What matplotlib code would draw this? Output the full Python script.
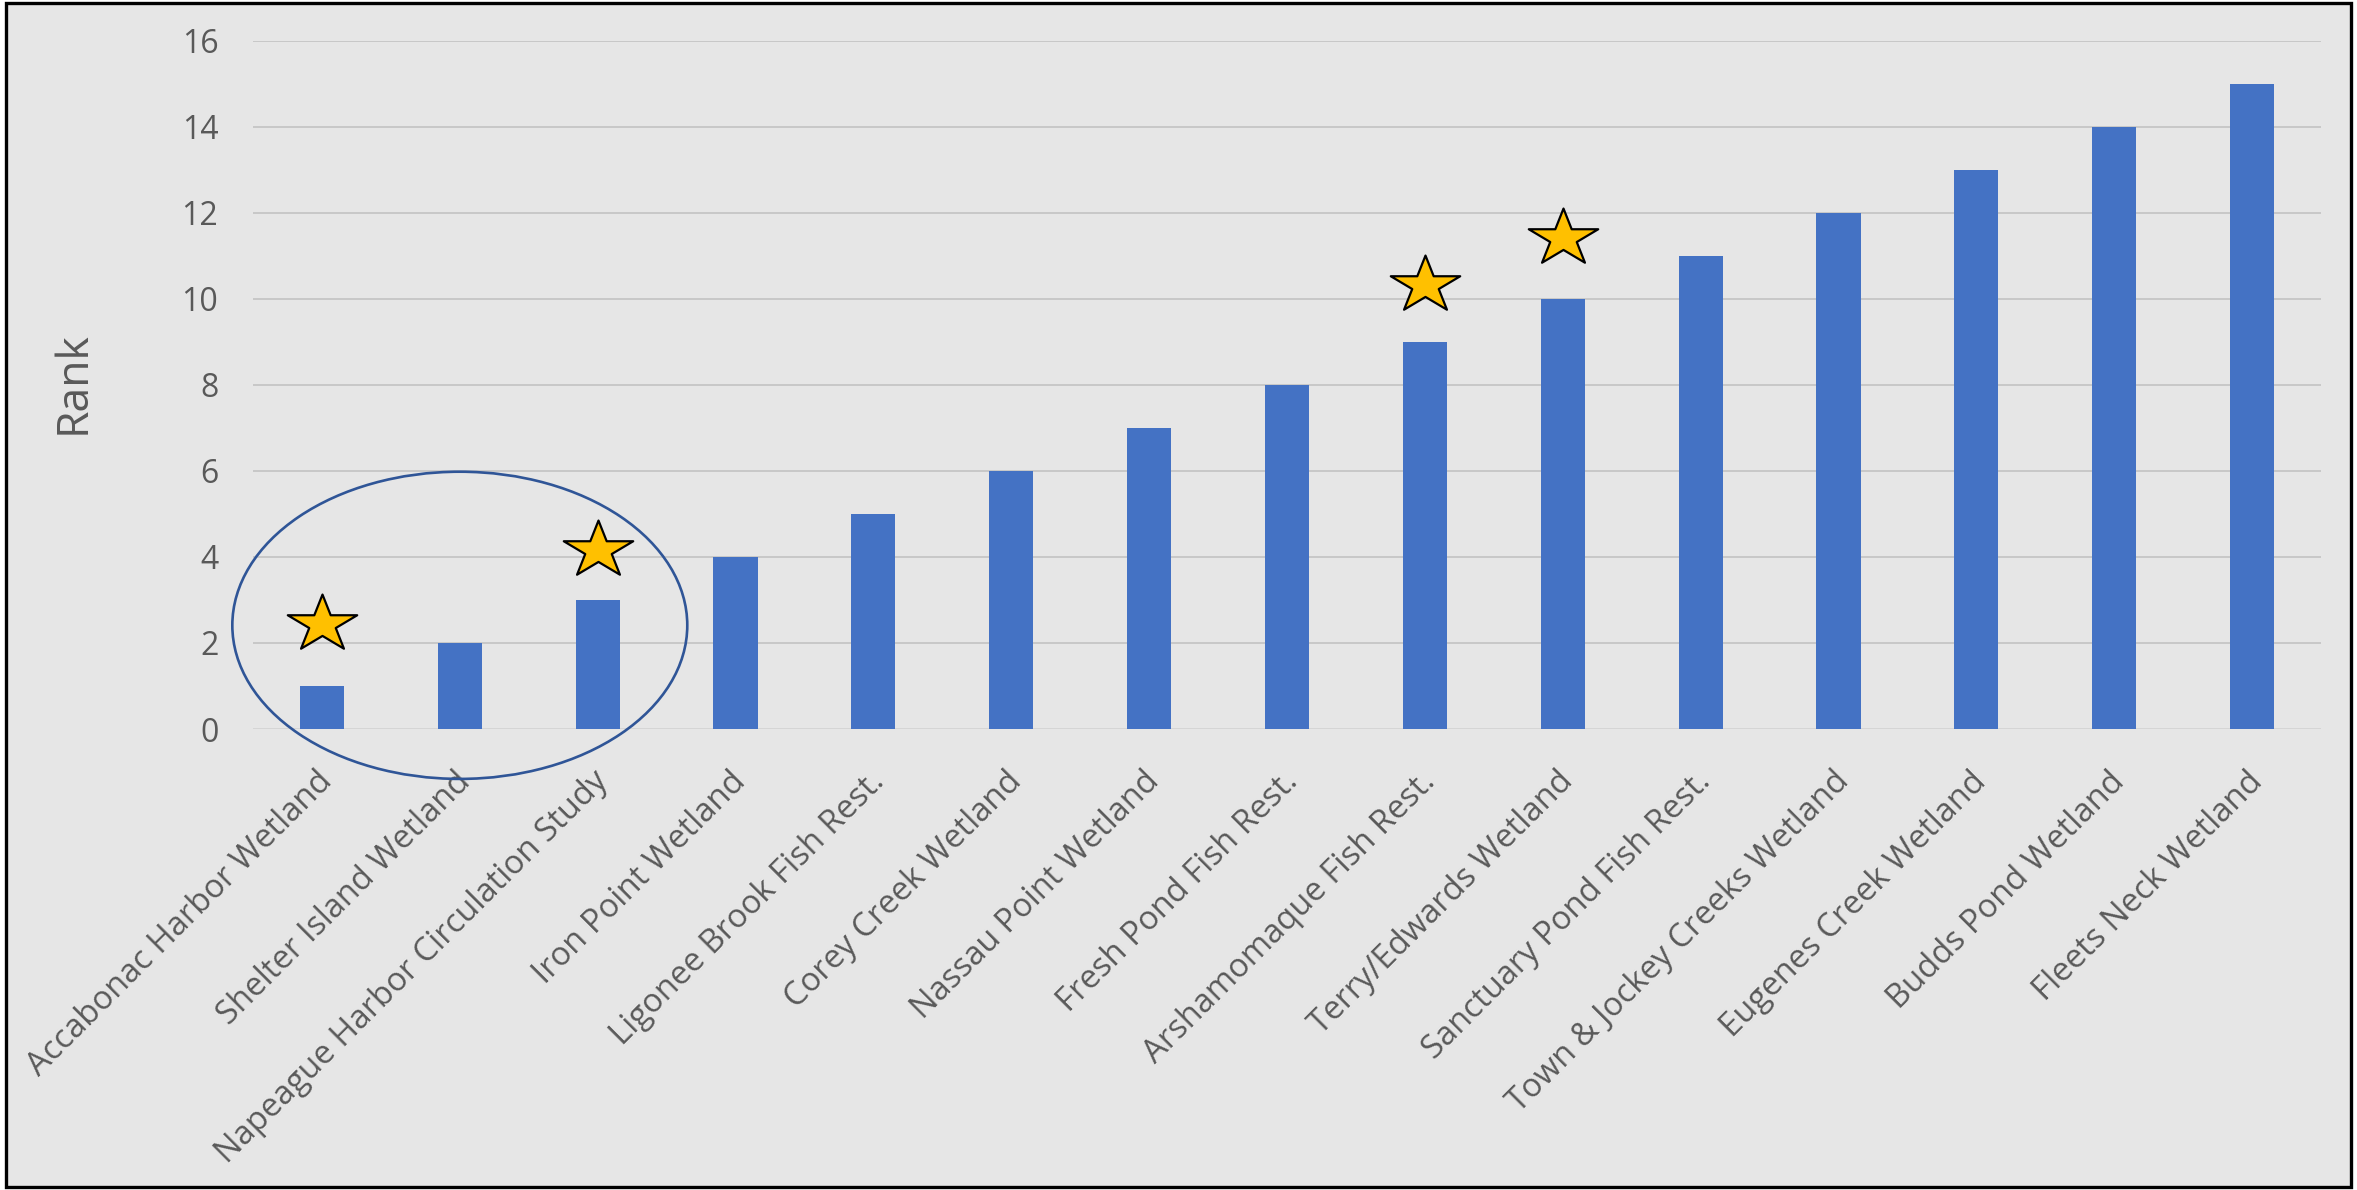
import numpy as np
import matplotlib.pyplot as plt
from matplotlib.patches import Ellipse, Rectangle
from matplotlib.path import Path
from matplotlib.transforms import ScaledTranslation

plt.rcParams['font.family'] = ['Open Sans', 'DejaVu Sans']

# data
projects = ["Accabonac Harbor Wetland", "Shelter Island Wetland",
            "Napeague Harbor Circulation Study", "Iron Point Wetland",
            "Ligonee Brook Fish Rest.", "Corey Creek Wetland",
            "Nassau Point Wetland", "Fresh Pond Fish Rest.",
            "Arshamomaque Fish Rest.", "Terry/Edwards Wetland",
            "Sanctuary Pond Fish Rest.", "Town & Jockey Creeks Wetland",
            "Eugenes Creek Wetland", "Budds Pond Wetland", "Fleets Neck Wetland"]
rank = [1, 2, 3, 4, 5, 6, 7, 8, 9, 10, 11, 12, 13, 14, 15]
star_idx = [0, 2, 8, 9]
star_y = [2.44, 4.16, 10.33, 11.41]

text_col = '#595959'
W, H = 2357, 1190

fig = plt.figure(figsize=(W / 100, H / 100), dpi=100, facecolor='white')
# grey chart area with black frame
fig.patches.append(Rectangle((6 / W, 3 / H), 2345 / W, 1184 / H, transform=fig.transFigure,
                             facecolor='#E6E6E6', edgecolor='black', linewidth=2.4, zorder=-10))

ax = fig.add_axes([253 / W, 461 / H, 2068 / W, (729 - 40.6) / H])
ax.set_facecolor('none')

x = np.arange(len(projects))
ax.bar(x, rank, width=0.32, color='#4472C4', zorder=3)

# flattened five point star
ang_out = np.deg2rad(90 + 72 * np.arange(5))
ang_in = ang_out + np.deg2rad(36)
pts = []
for a, b in zip(ang_out, ang_in):
    pts.append((np.cos(a), np.sin(a) * 0.82))
    pts.append((0.382 * np.cos(b), 0.382 * np.sin(b) * 0.82))
pts.append(pts[0])
star = Path(pts, closed=True)
ax.plot(x[star_idx], star_y, linestyle='none', marker=star, markersize=50,
        markerfacecolor='#FFC000', markeredgecolor='black', markeredgewidth=1.6,
        zorder=5, clip_on=False)

ax.add_patch(Ellipse((1, 2.41), 3.30, 7.14, fill=False, edgecolor='#2F5597',
                     linewidth=1.9, zorder=4, clip_on=False))

ax.set_xlim(-0.5, len(projects) - 0.5)
ax.set_ylim(0, 16)
ax.set_yticks(range(0, 17, 2))
ax.yaxis.grid(True, color='#BFBFBF', linewidth=1.1, zorder=0)
ax.set_axisbelow(True)
for s in ax.spines.values():
    s.set_visible(False)
ax.axhline(0, color='#D9D9D9', linewidth=1.1, zorder=1)

ax.set_xticks(x)
ax.set_xticklabels(projects, rotation=45, ha='right', va='top', rotation_mode='anchor')
ax.tick_params(axis='x', length=0, pad=26, labelsize=23.6, labelcolor=text_col)
ax.tick_params(axis='y', length=0, pad=25, labelsize=23, labelcolor=text_col)
shift = ScaledTranslation(-0.06, 0, fig.dpi_scale_trans)
for lab in ax.get_xticklabels():
    lab.set_transform(lab.get_transform() + shift)

fig.text(73 / W, 1 - 383 / H, 'Rank', rotation=90, ha='center', va='center',
         fontsize=32, color=text_col)

fig.savefig('out.png', dpi=100, facecolor='white')
